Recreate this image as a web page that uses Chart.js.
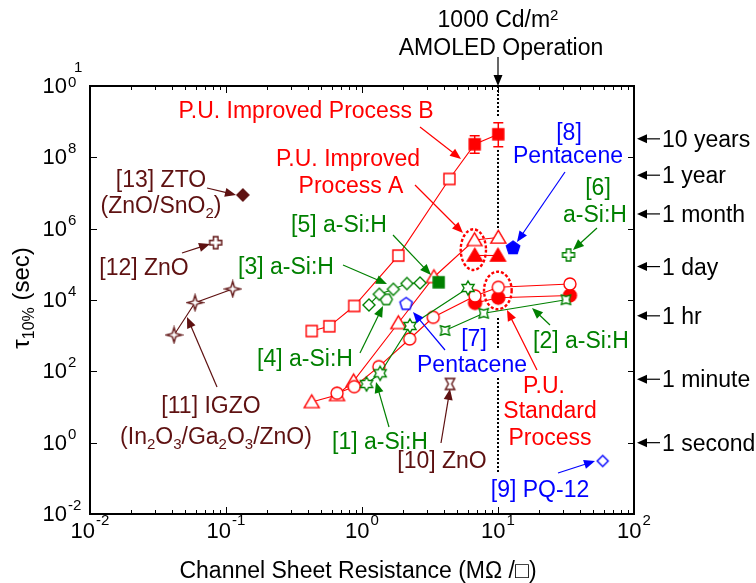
<!DOCTYPE html>
<html>
<head>
<meta charset="utf-8">
<script src="https://cdn.jsdelivr.net/npm/chart.js@4.4.1/dist/chart.umd.min.js"></script>
<style>
  html, body { margin: 0; padding: 0; background: #fff; }
  canvas { display: block; }
</style>
</head>
<body>
<canvas id="c" width="756" height="583"></canvas>
<script>
// ---- Data: channel sheet resistance (MΩ/□) vs. τ10% lifetime (s) ----

// P.U. Improved Process B (open squares, then filled squares with error bars)
const procB_R   = [0.427, 0.575, 0.877, 1.85, 4.39, 6.74, 10.05];
const procB_tau = [1350, 1830, 6790, 1.76e5, 2.47e7, 2.32e8, 4.43e8];
const procB_errLow  = [1.30e8, 1.99e8];   // for the two filled points
const procB_errHigh = [4.05e8, 9.36e8];

// P.U. Improved Process A
const procA_R   = [0.427, 0.655, 0.867, 1.85, 3.38, 6.72, 10.05];
const procA_tau = [13.8, 21.7, 53, 2270, 4.42e4, 4.82e5, 5.66e5];
const procA2_R   = [6.75, 10.0];
const procA2_tau = [1.77e5, 1.77e5];

// P.U. Standard Process
const std_R   = [0.655, 0.877, 1.33, 2.24, 3.34, 6.78, 10.05, 33.8];
const std_tau = [24.3, 37.2, 135, 807, 3276, 1.30e4, 2.27e4, 2.81e4];
const std2_R   = [6.78, 10.05, 33.8];
const std2_tau = [8240, 1.16e4, 1.34e4];

// a-Si:H references
const aSi1_R   = [1.08, 1.36, 2.25, 6.02];
const aSi1_tau = [44.2, 88.3, 1870, 2.17e4];
const aSi2_R   = [4.08, 7.85, 31.6];
const aSi2_tau = [1397, 4246, 1.02e4];
const aSi34_R   = [1.125, 1.34, 1.70, 2.14, 2.67];
const aSi34_tau = [7250, 1.45e4, 2.0e4, 2.9e4, 3.0e4];
const aSi4b_R   = [1.51];
const aSi4b_tau = [1.04e4];
const aSi5_R   = [3.66];
const aSi5_tau = [3.14e4];
const aSi6_R   = [33.0];
const aSi6_tau = [1.83e5];

// Organic references
const pent7_R   = [2.11];
const pent7_tau = [7730];
const pent8_R   = [12.9];
const pent8_tau = [2.87e5];
const pq12_R   = [58.9];
const pq12_tau = [0.307];

// Oxide references
const zno10_R   = [4.44];
const zno10_tau = [44.2];
const igzo_R   = [0.0415, 0.0592, 0.112];
const igzo_tau = [1045, 8410, 2.04e4];
const zno12_R   = [0.0839];
const zno12_tau = [4.05e5];
const zto_R   = [0.133];
const zto_tau = [8.79e6];

// Axis ticks (decade exponents) and right-hand time markers
const xTickExps = [-2, -1, 0, 1, 2];
const yTickExps = [-2, 0, 2, 4, 6, 8, 10];
const timeLabels  = ['10 years', '1 year', '1 month', '1 day', '1 hr', '1 minute', '1 second'];
const timeSeconds = [3.3e8, 3.156e7, 2.592e6, 86400, 3600, 60, 1];

// 1000 Cd/m2 operating point guide and highlighted groups
const guideR = 10;
const guideSegments = [[1e10, 1.27e9], [1.61e8, 1.05e6], [3130, 397], [65, 0.151]];
const ellipseA_R = [5.32, 8.16],  ellipseA_tau = [6.95e4, 9.6e5];
const ellipseS_R = [7.89, 12.6],  ellipseS_tau = [5.5e3, 6.22e4];

// ---- Styling ----
const RED = '#ff0000', GREEN = '#008000', BLUE = '#0000ff', BROWN = '#5e1111', BLACK = '#000';
const FONT = "'Liberation Sans', Arial, 'DejaVu Sans', sans-serif";

// Marker images used as Chart.js point styles
function marker(shape, color, filled, size) {
  const c = document.createElement('canvas');
  const dim = size + 4;
  c.width = dim; c.height = dim;
  const g = c.getContext('2d');
  g.translate(dim / 2, dim / 2);
  const r = size / 2;
  const poly = (pts) => { g.moveTo(pts[0][0], pts[0][1]); pts.slice(1).forEach(p => g.lineTo(p[0], p[1])); };
  const radial = (n, rOut, rIn, start) => {
    const pts = [];
    const k = rIn == null ? n : 2 * n;
    for (let i = 0; i < k; i++) {
      const a = start + i * Math.PI * 2 / k;
      const rr = (rIn == null || i % 2 === 0) ? rOut : rIn;
      pts.push([Math.cos(a) * rr, Math.sin(a) * rr]);
    }
    return pts;
  };
  g.beginPath();
  switch (shape) {
    case 'square': g.rect(-r, -r, 2 * r, 2 * r); break;
    case 'triangle': poly([[0, -r * 0.95], [r, r * 0.75], [-r, r * 0.75]]); break;
    case 'circle': g.arc(0, 0, r, 0, Math.PI * 2); break;
    case 'diamond': poly([[0, -r], [r, 0], [0, r], [-r, 0]]); break;
    case 'pentagon': poly(radial(5, r, null, -Math.PI / 2)); break;
    case 'hexagon': poly(radial(6, r, null, 0)); break;
    case 'star6': poly(radial(6, r, r * 0.58, -Math.PI / 2)); break;
    case 'star4': poly(radial(4, r, r * 0.32, -Math.PI / 2)); break;
    case 'concave': poly(radial(4, r, r * 0.5, -Math.PI / 4)); break;
    case 'hourglass': poly([[-r * 0.85, -r], [r * 0.85, -r], [r * 0.3, 0], [r * 0.85, r], [-r * 0.85, r], [-r * 0.3, 0]]); break;
    case 'plus': {
      const a = r * 0.38;
      poly([[-a, -r], [a, -r], [a, -a], [r, -a], [r, a], [a, a], [a, r], [-a, r], [-a, a], [-r, a], [-r, -a], [-a, -a]]);
      break;
    }
  }
  g.closePath();
  g.fillStyle = filled ? color : '#fff';
  g.fill();
  g.lineWidth = 1.4;
  g.strokeStyle = color;
  g.stroke();
  return c;
}

function series(xs, ys, style, color, line) {
  return {
    data: xs.map((v, i) => ({ x: v, y: ys[i] })),
    pointStyle: style,
    pointRadius: 6,
    pointHoverRadius: 6,
    showLine: !!line,
    borderColor: color,
    backgroundColor: color,
    borderWidth: 1.1,
  };
}

const sqOpen = marker('square', RED, false, 11), sqFill = marker('square', RED, true, 11);

const datasets = [
  series(igzo_R, igzo_tau, marker('star4', BROWN, false, 15), BROWN, true),
  series(zno12_R, zno12_tau, marker('plus', BROWN, false, 12), BROWN, false),
  series(zto_R, zto_tau, marker('diamond', BROWN, true, 12), BROWN, false),
  series(zno10_R, zno10_tau, marker('hourglass', BROWN, false, 11), BROWN, false),
  series(aSi34_R, aSi34_tau, marker('diamond', GREEN, false, 12), GREEN, true),
  series(aSi4b_R, aSi4b_tau, marker('hexagon', GREEN, false, 12), GREEN, false),
  series(aSi1_R, aSi1_tau, marker('star6', GREEN, false, 14), GREEN, true),
  series(aSi2_R, aSi2_tau, marker('concave', GREEN, false, 13), GREEN, true),
  series(aSi5_R, aSi5_tau, marker('square', GREEN, true, 11), GREEN, false),
  series(aSi6_R, aSi6_tau, marker('plus', GREEN, false, 12), GREEN, false),
  series(pent7_R, pent7_tau, marker('pentagon', BLUE, false, 13), BLUE, false),
  series(pent8_R, pent8_tau, marker('pentagon', BLUE, true, 14), BLUE, false),
  series(pq12_R, pq12_tau, marker('diamond', BLUE, false, 11), BLUE, false),
  series(std_R, std_tau, marker('circle', RED, false, 12), RED, true),
  series(std2_R, std2_tau, marker('circle', RED, true, 13), RED, true),
  series(procA_R, procA_tau, marker('triangle', RED, false, 15), RED, true),
  series(procA2_R, procA2_tau, marker('triangle', RED, true, 15), RED, true),
  series(procB_R, procB_tau, procB_R.map((_, i) => i < 5 ? sqOpen : sqFill), RED, true),
];

// ---- Annotation helpers ----
function rich(ctx, parts, x, y, align, color, size) {
  const small = Math.round(size * 0.66);
  const segs = parts.map(p => typeof p === 'string'
    ? { t: p, s: size, dy: 0 }
    : { t: p.t, s: small, dy: p.sub ? size * 0.22 : -size * 0.32 });
  let w = 0;
  segs.forEach(s => { ctx.font = `${s.s}px ${FONT}`; s.w = ctx.measureText(s.t).width; w += s.w; });
  let cx = align === 'center' ? x - w / 2 : align === 'right' ? x - w : x;
  ctx.fillStyle = color;
  ctx.textAlign = 'left';
  ctx.textBaseline = 'alphabetic';
  segs.forEach(s => { ctx.font = `${s.s}px ${FONT}`; ctx.fillText(s.t, cx, y + s.dy); cx += s.w; });
}

function arrow(ctx, x1, y1, x2, y2, color, lw = 1.2, hl = 11, hw = 4.5) {
  const a = Math.atan2(y2 - y1, x2 - x1), ca = Math.cos(a), sa = Math.sin(a);
  ctx.strokeStyle = color; ctx.fillStyle = color; ctx.lineWidth = lw; ctx.setLineDash([]);
  ctx.beginPath();
  ctx.moveTo(x1, y1);
  ctx.lineTo(x2 - ca * hl * 0.8, y2 - sa * hl * 0.8);
  ctx.stroke();
  ctx.beginPath();
  ctx.moveTo(x2, y2);
  ctx.lineTo(x2 - ca * hl + sa * hw, y2 - sa * hl - ca * hw);
  ctx.lineTo(x2 - ca * hl - sa * hw, y2 - sa * hl + ca * hw);
  ctx.closePath();
  ctx.fill();
}

const sub = t => ({ t, sub: true });
const sup = t => ({ t, sup: true });

// Text labels: [parts, centre x, baseline y, colour]
const notes = [
  [['P.U. Improved Process B'], 306, 118, RED],
  [['P.U. Improved'], 348, 166, RED],
  [['Process A'], 351, 193, RED],
  [['P.U.'], 544, 393, RED],
  [['Standard'], 550, 418, RED],
  [['Process'], 550, 445, RED],
  [['[13] ZTO'], 161, 187, BROWN],
  [['(ZnO/SnO', sub('2'), ')'], 161, 213, BROWN],
  [['[12] ZnO'], 144, 275, BROWN],
  [['[11] IGZO'], 211, 413, BROWN],
  [['(In', sub('2'), 'O', sub('3'), '/Ga', sub('2'), 'O', sub('3'), '/ZnO)'], 216, 444, BROWN],
  [['[10] ZnO'], 442, 468, BROWN],
  [['[3] a-Si:H'], 286, 274, GREEN],
  [['[5] a-Si:H'], 339, 232, GREEN],
  [['[4] a-Si:H'], 305, 366, GREEN],
  [['[1] a-Si:H'], 380, 449, GREEN],
  [['[2] a-Si:H'], 581, 348, GREEN],
  [['[6]'], 598, 195, GREEN],
  [['a-Si:H'], 595, 222, GREEN],
  [['[8]'], 569, 140, BLUE],
  [['Pentacene'], 568, 163, BLUE],
  [['[7]'], 474, 346, BLUE],
  [['Pentacene'], 472, 372, BLUE],
  [['[9] PQ-12'], 540, 497, BLUE],
  [['1000 Cd/m', sup('2')], 498, 27, BLACK],
  [['AMOLED Operation'], 501, 55, BLACK],
];

// Pointer arrows: [x1, y1, x2 (tip), y2 (tip), colour]
const pointers = [
  [207, 188, 236, 195, BROWN],
  [182, 253, 210, 244, BROWN],
  [217, 387, 187, 317, BROWN],
  [441, 443, 450, 389, BROWN],
  [343, 265, 387, 284, GREEN],
  [393, 235, 431, 275, GREEN],
  [360, 353, 383, 306, GREEN],
  [389, 427, 376, 382, GREEN],
  [550, 325, 532, 308, GREEN],
  [597, 228, 573, 250, GREEN],
  [565, 172, 517, 242, BLUE],
  [445, 350, 413, 312, BLUE],
  [558, 473, 595, 461, BLUE],
  [537, 370, 507, 310, RED],
  [420, 127, 461, 159, RED],
  [415, 185, 463, 233, RED],
  [498, 57, 498, 86, BLACK],
];

const decor = {
  id: 'decor',
  beforeDatasetsDraw(chart) {
    const { ctx, scales: { x, y } } = chart;
    ctx.save();
    // dotted guide at the AMOLED operating resistance
    const gx = x.getPixelForValue(guideR);
    ctx.strokeStyle = BLACK; ctx.lineWidth = 2; ctx.setLineDash([2, 2]);
    guideSegments.forEach(([a, b]) => {
      ctx.beginPath();
      ctx.moveTo(gx, y.getPixelForValue(a));
      ctx.lineTo(gx, y.getPixelForValue(b));
      ctx.stroke();
    });
    // dashed ellipses around the grouped points
    ctx.strokeStyle = RED; ctx.lineWidth = 2.4; ctx.setLineDash([3, 2]);
    [[ellipseA_R, ellipseA_tau], [ellipseS_R, ellipseS_tau]].forEach(([rs, ts]) => {
      const x0 = x.getPixelForValue(rs[0]), x1 = x.getPixelForValue(rs[1]);
      const y0 = y.getPixelForValue(ts[0]), y1 = y.getPixelForValue(ts[1]);
      ctx.beginPath();
      ctx.ellipse((x0 + x1) / 2, (y0 + y1) / 2, Math.abs(x1 - x0) / 2, Math.abs(y1 - y0) / 2, 0, 0, Math.PI * 2);
      ctx.stroke();
    });
    ctx.restore();
  },
  afterDatasetsDraw(chart) {
    const { ctx, scales: { x, y } } = chart;
    ctx.save();
    // error bars on the filled Process B points
    ctx.strokeStyle = RED; ctx.lineWidth = 1.5; ctx.setLineDash([]);
    procB_errLow.forEach((lo, i) => {
      const px = x.getPixelForValue(procB_R[5 + i]);
      const pLo = y.getPixelForValue(lo), pHi = y.getPixelForValue(procB_errHigh[i]);
      ctx.beginPath();
      ctx.moveTo(px, pLo); ctx.lineTo(px, pHi);
      ctx.moveTo(px - 5, pLo); ctx.lineTo(px + 5, pLo);
      ctx.moveTo(px - 5, pHi); ctx.lineTo(px + 5, pHi);
      ctx.stroke();
    });
    ctx.restore();
  },
  afterDraw(chart) {
    const { ctx, chartArea: A, scales: { x, y } } = chart;
    ctx.save();
    ctx.setLineDash([]);
    // frame
    ctx.strokeStyle = BLACK; ctx.lineWidth = 2;
    ctx.strokeRect(A.left, A.top, A.right - A.left, A.bottom - A.top);
    // inward ticks: x major + minor on bottom and top
    ctx.lineWidth = 1;
    for (let e = xTickExps[0]; e < xTickExps[xTickExps.length - 1] + 1; e++) {
      for (let m = 1; m <= 9; m++) {
        const v = m * Math.pow(10, e);
        if (v > Math.pow(10, xTickExps[xTickExps.length - 1])) break;
        const px = Math.round(x.getPixelForValue(v)) + 0.5;
        const len = m === 1 ? 7 : 4;
        ctx.beginPath();
        ctx.moveTo(px, A.bottom); ctx.lineTo(px, A.bottom - len);
        ctx.moveTo(px, A.top); ctx.lineTo(px, A.top + len);
        ctx.stroke();
      }
    }
    // y major ticks on left and right
    yTickExps.forEach(e => {
      const py = Math.round(y.getPixelForValue(Math.pow(10, e))) + 0.5;
      ctx.beginPath();
      ctx.moveTo(A.left, py); ctx.lineTo(A.left + 7, py);
      ctx.moveTo(A.right, py); ctx.lineTo(A.right - 6, py);
      ctx.stroke();
    });
    // y tick labels
    ctx.fillStyle = BLACK; ctx.textBaseline = 'alphabetic';
    yTickExps.forEach(e => {
      const py = y.getPixelForValue(Math.pow(10, e));
      ctx.font = `22px ${FONT}`; ctx.textAlign = 'right';
      ctx.fillText('10', A.left - 23, py + 7);
      ctx.font = `15px ${FONT}`; ctx.textAlign = 'left';
      const s = String(e);
      if (s.length === 2 && e > 0) {
        // two-digit exponent stacked to stay inside the margin
        ctx.fillText(s[1], A.left - 22, py + 1);
        ctx.fillText(s[0], A.left - 16, py - 14);
      } else {
        ctx.fillText(s, A.left - 22, py - 4);
      }
    });
    // x tick labels
    xTickExps.forEach(e => {
      const px = x.getPixelForValue(Math.pow(10, e));
      ctx.font = `22px ${FONT}`;
      const wb = ctx.measureText('10').width;
      ctx.font = `15px ${FONT}`;
      const we = ctx.measureText(String(e)).width;
      const x0 = px - (wb + we + 1) / 2;
      ctx.textAlign = 'left';
      ctx.font = `22px ${FONT}`;
      ctx.fillText('10', x0, A.bottom + 24);
      ctx.font = `15px ${FONT}`;
      ctx.fillText(String(e), x0 + wb + 1, A.bottom + 11);
    });
    // axis titles
    rich(ctx, ['Channel Sheet Resistance (M\u03A9 /\u25A1)'], 358, 578, 'center', BLACK, 23);
    ctx.save();
    ctx.translate(29, 298);
    ctx.rotate(-Math.PI / 2);
    rich(ctx, ['\u03C4', sub('10%'), ' (sec)'], 0, 0, 'center', BLACK, 24);
    ctx.restore();
    // time markers on the right
    timeSeconds.forEach((t, i) => {
      const py = y.getPixelForValue(t);
      arrow(ctx, A.right + 26, py, A.right + 3, py, BLACK, 1.2, 10, 4.5);
      ctx.font = `23px ${FONT}`; ctx.fillStyle = BLACK;
      ctx.textAlign = 'left'; ctx.textBaseline = 'alphabetic';
      ctx.fillText(timeLabels[i], A.right + 28, py + 8);
    });
    // callout text and pointers
    notes.forEach(([parts, cx, by, col]) => rich(ctx, parts, cx, by, 'center', col, 23));
    pointers.forEach(([a, b, c, d, col]) => arrow(ctx, a, b, c, d, col));
    ctx.restore();
  }
};

new Chart(document.getElementById('c'), {
  type: 'scatter',
  data: { datasets },
  options: {
    responsive: false,
    devicePixelRatio: 1,
    animation: false,
    events: [],
    layout: { padding: { left: 90, top: 86, right: 122, bottom: 69 } },
    plugins: { legend: { display: false }, tooltip: { enabled: false } },
    scales: {
      x: {
        type: 'logarithmic', min: 0.01, max: 100,
        ticks: { display: false }, grid: { display: false }, border: { display: false },
        afterFit: s => { s.height = 0; }
      },
      y: {
        type: 'logarithmic', min: 0.01, max: 1e10,
        ticks: { display: false }, grid: { display: false }, border: { display: false },
        afterFit: s => { s.width = 0; }
      }
    }
  },
  plugins: [decor]
});
</script>
</body>
</html>
